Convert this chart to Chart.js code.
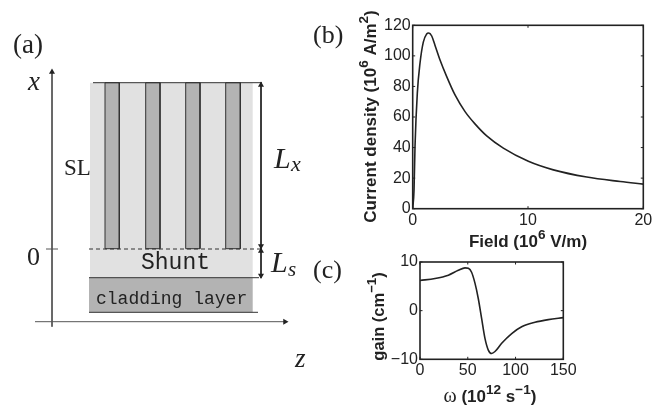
<!DOCTYPE html>
<html>
<head>
<meta charset="utf-8">
<title>Superlattice schematic, current density and gain</title>
<script src="https://cdn.jsdelivr.net/npm/chart.js@4/dist/chart.umd.js"></script>
<style>
  html, body { margin: 0; padding: 0; background: #fff; }
  canvas { position: absolute; }
</style>
</head>
<body>
<canvas id="schematic" width="665" height="406" style="left:0;top:0"></canvas>
<canvas id="current" width="325" height="256" style="left:340px;top:0"></canvas>
<canvas id="gain" width="305" height="166" style="left:360px;top:240px"></canvas>
<script>
  // (b) current density against field
  const fieldValues = [0, 0.115, 0.2, 0.4, 0.63, 0.92, 1.21, 1.39, 1.65, 1.93, 2.37, 2.95, 3.67, 4.54, 5.4, 6.42, 7.86, 10.03, 12.2, 15.1, 18, 20];
  const currentValues = [0, 12.2, 40.6, 75.5, 95, 109, 114.3, 115, 113, 107, 97.3, 86.4, 74.4, 63.5, 55.5, 47.6, 39.6, 31, 25.4, 20.7, 17.8, 16.1];
  const currentXTicks = [0, 10, 20];
  const currentYTicks = [0, 20, 40, 60, 80, 100, 120];

  // (c) gain against frequency
  const omegaValues = [0, 15.7, 29.7, 40.1, 47.1, 50.6, 54, 57.6, 61, 64.5, 68, 71.5, 75, 78.5, 85.5, 96, 106.4, 120.3, 134.3, 150];
  const gainValues = [6.2, 6.6, 7.3, 8.3, 8.8, 8.7, 7.9, 5.6, 2.5, -1.6, -5.7, -8.1, -8.8, -8.4, -6.7, -4.7, -3.3, -2.4, -1.85, -1.44];
  const gainXTicks = [0, 50, 100, 150];
  const gainYTicks = [-10, 0, 10];

  // axis titles, pieces marked sup are raised
  const currentXTitle = [{ t: 'Field (10' }, { t: '6', sup: true }, { t: ' V/m)' }];
  const currentYTitle = [{ t: 'Current density (10' }, { t: '6', sup: true }, { t: ' A/m' }, { t: '2', sup: true }, { t: ')' }];
  const gainXTitle = [{ t: '\u03c9', serif: true }, { t: ' (10' }, { t: '12', sup: true }, { t: ' s' }, { t: '\u22121', sup: true }, { t: ')' }];
  const gainYTitle = [{ t: 'gain (cm' }, { t: '\u22121', sup: true }, { t: ')' }];

  // (a) layer outlines
  const slLayer = [[90, 82.7], [252.7, 82.7], [252.7, 277.7], [90, 277.7], [90, 82.7]];
  const claddingLayer = [[89, 277.7], [252.7, 277.7], [252.7, 312.3], [89, 312.3], [89, 277.7]];
  const stripeEdges = [[105, 119.3], [145.7, 160], [185.7, 200], [225.7, 240.3]];
  const stripeTop = 82.7;
  const stripeBottom = 248.7;

  const lineColor = '#222';
  const sansFont = '"Liberation Sans", Arial, sans-serif';

  function pts(list) {
    return list.map(p => ({ x: p[0], y: p[1] }));
  }

  function path(list, color, width, extra) {
    return Object.assign({
      data: pts(list),
      showLine: true,
      borderColor: color,
      borderWidth: width,
      pointRadius: 0,
      fill: false,
      clip: false
    }, extra || {});
  }

  function head(x, y, rotation) {
    return {
      data: [{ x: x, y: y }],
      pointStyle: 'triangle',
      pointRadius: 3.5,
      pointRotation: rotation,
      backgroundColor: '#222',
      borderColor: '#222',
      borderWidth: 0,
      clip: false
    };
  }

  const schematicLabels = [
    { text: '(a)', x: 13, y: 46, font: '27px "Liberation Serif"' },
    { text: '(b)', x: 313, y: 36, font: '26px "Liberation Serif"' },
    { text: '(c)', x: 313, y: 271, font: '26px "Liberation Serif"' },
    { text: 'x', x: 28, y: 83, font: 'italic 27px "Liberation Serif"' },
    { text: '0', x: 27, y: 258, font: '26px "Liberation Serif"' },
    { text: 'SL', x: 64, y: 169, font: '23px "Liberation Serif"' },
    { text: 'Shunt', x: 141, y: 263, font: '23px "Liberation Mono"' },
    { text: 'cladding layer', x: 96, y: 299, font: '18px "Liberation Mono"' },
    { text: 'L', x: 274, y: 160, font: 'italic 30px "Liberation Serif"' },
    { text: 'x', x: 291, y: 165, font: 'italic 22px "Liberation Serif"' },
    { text: 'L', x: 271, y: 264, font: 'italic 30px "Liberation Serif"' },
    { text: 's', x: 288, y: 270, font: 'italic 21px "Liberation Serif"' },
    { text: 'z', x: 295, y: 360, font: 'italic 27px "Liberation Serif"' }
  ];

  const labelPlugin = {
    id: 'labels',
    afterDraw(chart) {
      const ctx = chart.ctx;
      ctx.save();
      ctx.fillStyle = lineColor;
      ctx.textBaseline = 'middle';
      ctx.textAlign = 'left';
      schematicLabels.forEach(l => {
        ctx.font = l.font;
        ctx.fillText(l.text, chart.scales.x.getPixelForValue(l.x), chart.scales.y.getPixelForValue(l.y));
      });
      ctx.restore();
    }
  };

  const stripes = stripeEdges.map(e => path(
    [[e[0], stripeTop], [e[1], stripeTop], [e[1], stripeBottom], [e[0], stripeBottom], [e[0], stripeTop]],
    '#333', 1, { fill: 'shape', backgroundColor: '#b3b3b3' }
  ));

  new Chart('schematic', {
    type: 'scatter',
    data: {
      datasets: [
        head(52, 72, 0),
        head(285, 321.7, 90),
        head(261, 85, 0),
        head(261, 246, 180),
        head(261, 251, 0),
        head(261, 275.5, 180),
        path([[52, 72], [52, 326.7]], '#555', 1),
        path([[35, 321.7], [285, 321.7]], '#555', 1),
        path([[46, 249], [58, 249]], '#555', 1),
        path([[93, 82.7], [262, 82.7]], '#333', 1),
        path([[89, 249], [260, 249]], '#333', 1, { borderDash: [4, 3] }),
        path([[89, 277.7], [259, 277.7]], '#333', 1),
        path([[89, 312.3], [258, 312.3]], '#333', 1),
        path([[261, 82.7], [261, 277.7]], '#222', 1),
        ...stripes,
        path(claddingLayer, 'rgba(0,0,0,0)', 0, { fill: 'shape', backgroundColor: '#b3b3b3' }),
        path(slLayer, 'rgba(0,0,0,0)', 0, { fill: 'shape', backgroundColor: '#e1e1e1' })
      ]
    },
    options: {
      responsive: false,
      animation: false,
      layout: { padding: 0, autoPadding: false },
      plugins: { legend: { display: false }, tooltip: { enabled: false } },
      scales: {
        x: { type: 'linear', min: 0, max: 665, display: false },
        y: { type: 'linear', min: 0, max: 406, reverse: true, display: false }
      }
    },
    plugins: [labelPlugin]
  });

  // axis title with real raised exponents, chart.js titles only take one font
  function drawTitle(ctx, pieces, cx, cy, rotated, size) {
    ctx.save();
    ctx.translate(cx, cy);
    if (rotated) ctx.rotate(-Math.PI / 2);
    ctx.fillStyle = lineColor;
    ctx.textBaseline = 'alphabetic';
    ctx.textAlign = 'left';
    const fontOf = p => p.serif
      ? (size + 3) + 'px "Liberation Serif"'
      : 'bold ' + (p.sup ? size * 0.8 : size) + 'px ' + sansFont;
    let total = 0;
    pieces.forEach(p => { ctx.font = fontOf(p); total += ctx.measureText(p.t).width; });
    let at = -total / 2;
    pieces.forEach(p => {
      ctx.font = fontOf(p);
      ctx.fillText(p.t, at, size * 0.36 - (p.sup ? size * 0.5 : 0));
      at += ctx.measureText(p.t).width;
    });
    ctx.restore();
  }

  // frame, matlab style inward ticks and the axis titles
  const framePlugin = {
    id: 'frame',
    afterDatasetsDraw(chart, args, opts) {
      const ctx = chart.ctx;
      const a = chart.chartArea;
      ctx.save();
      ctx.strokeStyle = lineColor;
      ctx.lineWidth = 1;
      ctx.beginPath();
      chart.scales.x.ticks.forEach(t => {
        const px = chart.scales.x.getPixelForValue(t.value);
        ctx.moveTo(px, a.bottom); ctx.lineTo(px, a.bottom - 2.5);
        ctx.moveTo(px, a.top); ctx.lineTo(px, a.top + 2.5);
      });
      chart.scales.y.ticks.forEach(t => {
        const py = chart.scales.y.getPixelForValue(t.value);
        ctx.moveTo(a.left, py); ctx.lineTo(a.left + 2.5, py);
        ctx.moveTo(a.right, py); ctx.lineTo(a.right - 2.5, py);
      });
      ctx.stroke();
      ctx.lineWidth = 1.6;
      ctx.strokeRect(a.left, a.top, a.right - a.left, a.bottom - a.top);
      ctx.restore();
      drawTitle(ctx, opts.xTitle, opts.xTitleAt[0], opts.xTitleAt[1], false, opts.xTitleSize);
      drawTitle(ctx, opts.yTitle, opts.yTitleAt[0], opts.yTitleAt[1], true, opts.yTitleSize);
    }
  };

  function curveChart(id, xs, ys, xTicks, yTicks, box, titles) {
    return new Chart(id, {
      type: 'line',
      data: {
        labels: xs,
        datasets: [{
          data: xs.map((x, i) => ({ x: x, y: ys[i] })),
          borderColor: lineColor,
          borderWidth: 1.6,
          pointRadius: 0,
          cubicInterpolationMode: 'monotone',
          fill: false
        }]
      },
      options: {
        responsive: false,
        animation: false,
        layout: { padding: { top: box.top, right: box.right, left: 0, bottom: 0 } },
        plugins: { legend: { display: false }, tooltip: { enabled: false }, frame: titles },
        scales: {
          x: {
            type: 'linear',
            min: xTicks[0],
            max: xTicks[xTicks.length - 1],
            afterBuildTicks: s => { s.ticks = xTicks.map(v => ({ value: v })); },
            afterFit: s => { s.height = box.xAxis; },
            border: { display: false },
            grid: { display: false, drawTicks: false },
            ticks: {
              color: lineColor,
              maxRotation: 0,
              padding: 2,
              font: { family: sansFont, size: 16 },
              callback: v => String(v)
            }
          },
          y: {
            type: 'linear',
            min: yTicks[0],
            max: yTicks[yTicks.length - 1],
            afterBuildTicks: s => { s.ticks = yTicks.map(v => ({ value: v })); },
            afterFit: s => { s.width = box.yAxis; },
            border: { display: false },
            grid: { display: false, drawTicks: false },
            ticks: {
              color: lineColor,
              padding: 2,
              font: { family: sansFont, size: 16 },
              callback: v => String(v).replace('-', '\u2212')
            }
          }
        }
      },
      plugins: [framePlugin]
    });
  }

  curveChart('current', fieldValues, currentValues, currentXTicks, currentYTicks,
    { top: 25.3, right: 21.7, xAxis: 47.3, yAxis: 72.7 },
    { xTitle: currentXTitle, xTitleAt: [188, 241], xTitleSize: 17, yTitle: currentYTitle, yTitleAt: [30, 116.5], yTitleSize: 17 });

  curveChart('gain', omegaValues, gainValues, gainXTicks, gainYTicks,
    { top: 22, right: 101.7, xAxis: 46.7, yAxis: 60 },
    { xTitle: gainXTitle, xTitleAt: [130, 156], xTitleSize: 17, yTitle: gainYTitle, yTitleAt: [18, 76.5], yTitleSize: 16.5 });
</script>
</body>
</html>
